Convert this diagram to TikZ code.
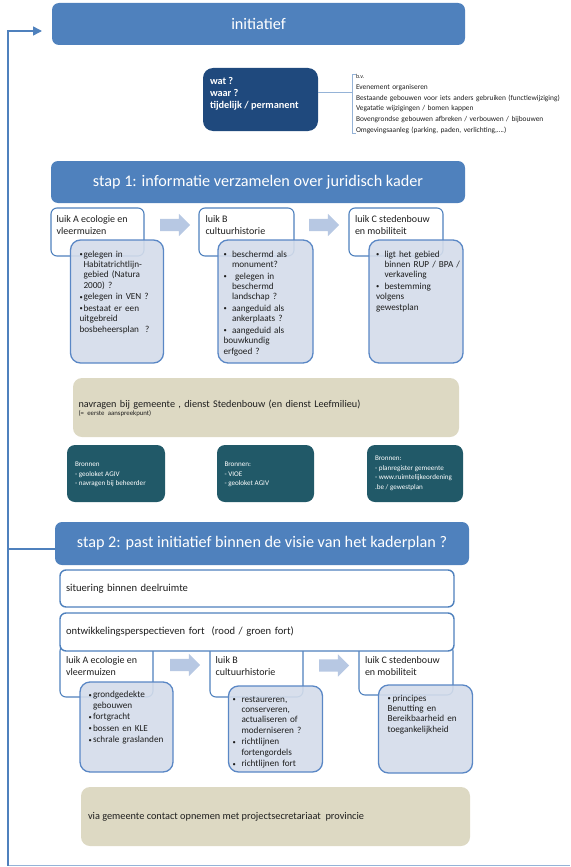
\documentclass[tikz,border=0pt]{standalone}
\usepackage{fontspec}
\setmainfont{Carlito}
\usetikzlibrary{calc,shapes.arrows,arrows.meta}
\setlength{\parindent}{0pt}
\definecolor{blueM}{HTML}{4F81BD}
\definecolor{navy}{HTML}{1F497D}
\definecolor{detF}{HTML}{D4DCEA}
\definecolor{detB}{HTML}{5A87C5}
\definecolor{arrF}{HTML}{B7C8E3}
\definecolor{tealD}{HTML}{215968}
\definecolor{beige}{HTML}{DDD9C3}
\definecolor{lightL}{HTML}{95B3D7}
\definecolor{txtc}{HTML}{1E1E1E}
\newcommand\fs[2]{\fontsize{#1}{#2}\selectfont}
\newcommand\detfont{\fs{9.2}{10.4}\setlength{\parskip}{1.2pt}}
\newcommand\bitem[2][5pt]{\par\hangindent=#1\hangafter=1\noindent\makebox[#1][l]{\raisebox{0.6pt}{\fs{6.5}{7}\textbullet}}#2}
\begin{document}
\begin{tikzpicture}[x=1pt,y=-1pt,
  bx/.style={anchor=north west, outer sep=0pt, inner sep=0pt},
  stapbox/.style={bx, fill=blueM, rounded corners=7pt, text=white, font=\fs{16.2}{19}},
  watbox/.style={bx, fill=navy, rounded corners=10pt},
  luikbox/.style={bx, draw=blueM, line width=1.1pt, fill=white, rounded corners=6pt},
  detbox/.style={bx, draw=detB, line width=1.3pt, fill=detF, fill opacity=0.9, rounded corners=10pt},
  txt/.style={anchor=north west, inner sep=0pt, outer sep=0pt, align=left, text=txtc},
  luiktxt/.style={txt, font=\fs{10}{11.7}},
  wtxt/.style={anchor=north west, inner sep=0pt, outer sep=0pt, align=left, text=white},
  blockarr/.style={single arrow, fill=arrF, inner xsep=0pt, inner ysep=6pt, single arrow head extend=5pt, minimum height=30pt, outer sep=0pt},
  beigebox/.style={bx, fill=beige, rounded corners=9pt},
  brbox/.style={bx, fill=tealD, rounded corners=8pt},
  sitbox/.style={bx, draw=blueM, line width=1.4pt, fill=white, rounded corners=6pt, align=left, inner xsep=6pt, font=\fs{10.6}{12}, text=txtc},
  lnk/.style={draw=blueM, line width=1.5pt},
]
\useasboundingbox (0,0) rectangle (570,867);

% ---- loop connector ----
\coordinate (lbot) at (8,865.5);
\coordinate (lright) at (570,865.5);
\coordinate (ltop) at (8,31);
\coordinate (larr) at (42,31);
\coordinate (lmid) at (8,549);
\draw[draw=lightL, line width=1.5pt] (lbot) -- (lright);
\draw[lnk, -{Triangle[length=9pt,width=9pt]}] (lbot) -- (ltop) -- (larr);

% ---- initiatief ----
\node[stapbox, minimum width=413pt, minimum height=42pt] (init) at (52,3) {initiatief};

\node[watbox, minimum width=115pt, minimum height=63pt] (wat) at (203,68) {};
\node[wtxt, font=\bfseries\fs{10.3}{12}] (twat) at (210,77) {wat ?\\waar ?\\tijdelijk / permanent};
\coordinate (brm) at (352,92.3);
\coordinate (brt) at (352,74);
\coordinate (brb) at (352,133);
\draw[draw=lightL, line width=1.2pt] (wat.east |- brm) -- (brm);
\draw[draw=lightL, line width=1pt] ($(brt)+(3.5,0)$) -- (brt) -- (brb) -- ($(brb)+(3.5,0)$);
\node[txt, text width=220pt, font=\fs{7.4}{10.7}] (tlist) at (356,74.5) {{\fs{6}{10.7}b.v.}\newline Evenement organiseren\newline Bestaande gebouwen voor iets anders gebruiken (functiewijziging)\newline Vegatatie wijzigingen / bomen kappen\newline Bovengrondse gebouwen afbreken / verbouwen / bijbouwen\newline Omgevingsaanleg (parking, paden, verlichting,….)};

% ---- stap 1 ----
\node[stapbox, minimum width=414pt, minimum height=42pt] (s1) at (51,161) {stap 1: informatie verzamelen over juridisch kader};

\node[luikbox, minimum width=93pt, minimum height=48pt] (la1) at (51,208) {};
\node[luikbox, minimum width=95pt, minimum height=48pt] (lb1) at (199,208) {};
\node[luikbox, minimum width=94pt, minimum height=48pt] (lc1) at (349,208) {};
\node[luiktxt] (tla1) at (56.5,216) {luik A ecologie en\\vleermuizen};
\node[luiktxt] (tlb1) at (205.5,216) {luik B\\cultuurhistorie};
\node[luiktxt] (tlc1) at (355,216) {luik C stedenbouw\\en mobiliteit};
\node[blockarr] (ar1) at (172,225) {};
\node[blockarr] (ar2) at (321,225) {};

\node[detbox, minimum width=93pt, minimum height=123pt] (da1) at (70.5,240) {};
\node[detbox, minimum width=95pt, minimum height=123pt] (db1) at (218,240) {};
\node[detbox, minimum width=94pt, minimum height=123pt] (dc1) at (369,240) {};

\node[txt, text width=85pt, font=\detfont] (tda1) at (79.5,245.5) {\bitem[4pt]{gelegen in\newline Habitatrichtlijn-\newline gebied (Natura\newline 2000) ?}\bitem[4pt]{gelegen in VEN ?}\bitem[4pt]{bestaat er een\newline uitgebreid\newline bosbeheersplan\ \ ?}};
\node[txt, text width=88pt, font=\detfont] (tdb1) at (223.5,245.5) {\bitem[8.5pt]{beschermd\ als\newline monument?}\bitem[8.5pt]{\ gelegen in\newline beschermd\newline landschap ?}\bitem[8.5pt]{aangeduid als\newline ankerplaats ?}\bitem[8.5pt]{aangeduid als\newline bouwkundig\newline erfgoed ?}};
\node[txt, text width=88pt, font=\detfont] (tdc1) at (376,245.5) {\bitem[8.5pt]{ligt het gebied\newline binnen RUP / BPA /\newline verkaveling}\bitem[8.5pt]{bestemming\newline volgens\newline gewestplan}};

\node[beigebox, minimum width=386pt, minimum height=59pt] (bg1) at (73,378) {};
\node[txt, text width=375pt] (tbg1) at (78.5,400) {{\fs{10.2}{11}navragen bij gemeente , dienst Stedenbouw (en dienst Leefmilieu)\par}{\fs{6.8}{7.7}(= eerste aanspreekpunt)\par}};

\node[brbox, minimum width=98pt, minimum height=57pt] (br1) at (67,445) {};
\node[brbox, minimum width=97pt, minimum height=57pt] (br2) at (217,445) {};
\node[brbox, minimum width=96pt, minimum height=57pt] (br3) at (367,445) {};
\node[wtxt, font=\fs{7.1}{9.5}] (tbr1) at (75,462) {Bronnen\\- geoloket AGIV\\- navragen bij beheerder};
\node[wtxt, font=\fs{7.1}{9.5}] (tbr2) at (224.5,462) {Bronnen:\\- VIOE\\- geoloket AGIV};
\node[wtxt, font=\fs{7.1}{9.5}] (tbr3) at (375,456) {Bronnen:\\- planregister gemeente\\- www.ruimtelijkeordening\\.be / gewestplan};

% ---- stap 2 ----
\node[stapbox, minimum width=414pt, minimum height=43pt] (s2) at (55,522) {stap 2: past initiatief binnen de visie van het kaderplan ?};
\draw[lnk] (lmid) -- (lmid -| s2.west);

\node[luikbox, minimum width=93pt, minimum height=52pt] (la2) at (60,645) {};
\node[luikbox, minimum width=93pt, minimum height=52pt] (lb2) at (210,645) {};
\node[luikbox, minimum width=94pt, minimum height=50pt] (lc2) at (359,645) {};

\node[sitbox, minimum height=37pt, text width=382pt] (sit) at (60,570) {situering binnen deelruimte};
\node[sitbox, minimum height=38pt, text width=382pt] (ont) at (60,613) {ontwikkelingsperspectieven fort\ \ (rood / groen fort)};

\node[luiktxt] (tla2) at (66,657) {luik A ecologie en\\vleermuizen};
\node[luiktxt] (tlb2) at (215.7,657) {luik B\\cultuurhistorie};
\node[luiktxt] (tlc2) at (365,657) {luik C stedenbouw\\en mobiliteit};
\node[blockarr] (ar3) at (182,665) {};
\node[blockarr] (ar4) at (331,665.5) {};

\node[detbox, minimum width=93pt, minimum height=90pt] (da2) at (80,682) {};
\node[detbox, minimum width=94pt, minimum height=86pt] (db2) at (228.5,686) {};
\node[detbox, minimum width=94pt, minimum height=88pt] (dc2) at (378.5,685) {};

\node[txt, text width=85pt, font=\detfont] (tda2) at (88.5,686) {\bitem[4.5pt]{grondgedekte\newline gebouwen}\bitem[4.5pt]{fortgracht}\bitem[4.5pt]{bossen en KLE}\bitem[4.5pt]{schrale graslanden}};
\node[txt, text width=88pt, font=\detfont] (tdb2) at (232.5,690.5) {\bitem[9pt]{restaureren,\newline conserveren,\newline actualiseren of\newline moderniseren ?}\bitem[9pt]{richtlijnen\newline fortengordels}\bitem[9pt]{richtlijnen fort}};
\node[txt, text width=88pt, font=\detfont] (tdc2) at (387.5,689.5) {\bitem[5pt]{principes\newline Benutting en\newline Bereikbaarheid en\newline toegankelijkheid}};

\node[beigebox, minimum width=389pt, minimum height=59pt] (bg2) at (81,787) {};
\node[txt, font=\fs{10.3}{12}] (tbg2) at (88,812.5) {via gemeente contact opnemen met projectsecretariaat\ \ provincie};
\end{tikzpicture}
\end{document}
